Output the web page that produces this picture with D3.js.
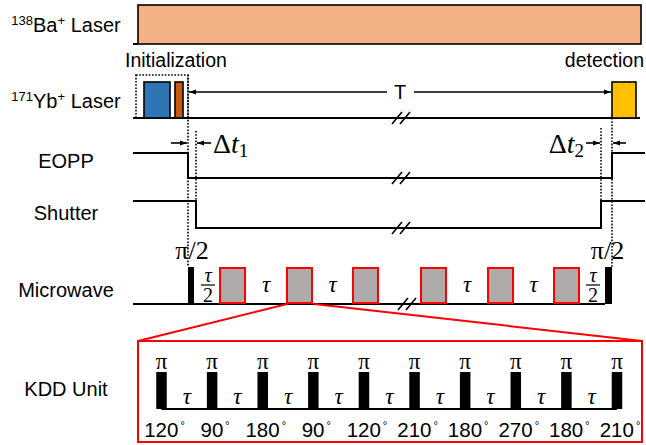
<!DOCTYPE html>
<html>
<head>
<meta charset="utf-8">
<script src="https://cdn.jsdelivr.net/npm/d3@7"></script>
<style>
  body { margin: 0; background: #fff; }
  text { font-family: Arial, "Liberation Sans", sans-serif; fill: #000; }
  .math { font-family: "Liberation Serif", "DejaVu Serif", serif; }
</style>
</head>
<body>
<svg id="chart" width="646" height="445"></svg>
<script>
// ---- sequence timing (arbitrary time units along the main axis) ----
const rowNames = ["Ba", "Yb", "EOPP", "Shutter", "Microwave", "KDD Unit"];
const baLaserOn = [0.5, 50.8];
const ybPulseStart = [1.1, 4.2, 47.9];
const ybPulseEnd = [3.7, 5.0, 50.3];
const ybPulseColor = ["#2e75b6", "#c55a11", "#ffc000"];
const initWindow = [0.3, 5.5];
const eoppEdges = [5.5, 47.9];      // switch off, switch back on
const shutterEdges = [6.3, 46.8];   // close, open
const piHalfStart = [5.5, 47.2];
const piHalfEnd = [6.1, 47.9];
const kddBlockStart = [8.7, 15.4, 22.0, 28.8, 35.5, 42.1];
const kddBlockLength = 2.5;
const zoomedBlock = 1;
const upperBreak = 26.8;
const microwaveBreak = 27.4;
const waitArrow = [5.6, 47.8];

// ---- one KDD unit: ten pi pulses and their phases ----
const kddPhases = [120, 90, 180, 90, 120, 210, 180, 270, 180, 210];

const svg = d3.select("#chart");
const x = d3.scaleLinear().domain([0, 51.2]).range([133, 645]);
const xk = d3.scaleLinear().domain([0, kddPhases.length - 1]).range([161.5, 617]);

// vertical layout of each trace
const row = {
  ba:   { base: 44, top: 5 },
  yb:   { base: 118, top: 82 },
  eopp: { hi: 153, lo: 178 },
  shut: { hi: 201, lo: 228 },
  mw:   { base: 304, top: 267 },
  kdd:  { base: 409, top: 372, boxTop: 341, boxBottom: 442 }
};

// arrow heads
const defs = svg.append("defs");
defs.append("marker").attr("id", "head")
  .attr("viewBox", "0 0 10 10").attr("refX", 10).attr("refY", 5)
  .attr("markerWidth", 7).attr("markerHeight", 7).attr("orient", "auto-start-reverse")
  .attr("markerUnits", "userSpaceOnUse")
  .append("path").attr("d", "M0,1.5 L10,5 L0,8.5 Z").attr("fill", "#000");

const line = (x1, y1, x2, y2, opts = {}) => svg.append("line")
  .attr("x1", x1).attr("y1", y1).attr("x2", x2).attr("y2", y2)
  .attr("stroke", opts.color || "#000")
  .attr("stroke-width", opts.width || 2)
  .attr("stroke-dasharray", opts.dash || null);

const dotted = (x1, y1, x2, y2) => line(x1, y1, x2, y2, { width: 1.6, dash: "1.6,1.6" });

// ---- row labels ----
const labelX = 66;
const lab = svg.append("g").attr("text-anchor", "middle").attr("font-size", 20);
const baLab = lab.append("text").attr("x", labelX).attr("y", 32);
baLab.append("tspan").attr("font-size", 13).attr("dy", -7).text("138");
baLab.append("tspan").attr("dy", 7).text("Ba");
baLab.append("tspan").attr("font-size", 13).attr("dy", -7).text("+");
baLab.append("tspan").attr("dy", 7).text(" Laser");
const ybLab = lab.append("text").attr("x", labelX).attr("y", 108);
ybLab.append("tspan").attr("font-size", 13).attr("dy", -7).text("171");
ybLab.append("tspan").attr("dy", 7).text("Yb");
ybLab.append("tspan").attr("font-size", 13).attr("dy", -7).text("+");
ybLab.append("tspan").attr("dy", 7).text(" Laser");
lab.append("text").attr("x", labelX).attr("y", 168).text(rowNames[2]);
lab.append("text").attr("x", labelX).attr("y", 220).text(rowNames[3]);
lab.append("text").attr("x", labelX).attr("y", 297).text(rowNames[4]);
lab.append("text").attr("x", labelX).attr("y", 396).text(rowNames[5]);

// ---- 138Ba+ laser: always on ----
line(x(0), row.ba.base, x(baLaserOn[0]), row.ba.base);
svg.append("rect")
  .attr("x", x(baLaserOn[0])).attr("y", row.ba.top)
  .attr("width", x(baLaserOn[1]) - x(baLaserOn[0])).attr("height", row.ba.base - row.ba.top)
  .attr("fill", "#f4b183").attr("stroke", "#000").attr("stroke-width", 1.6);

// ---- 171Yb+ laser ----
line(x(0), row.yb.base, x(50.7), row.yb.base);
svg.selectAll("rect.yb").data(ybPulseStart).join("rect").attr("class", "yb")
  .attr("x", (d) => x(d)).attr("y", row.yb.top)
  .attr("width", (d, i) => x(ybPulseEnd[i]) - x(d)).attr("height", row.yb.base - row.yb.top)
  .attr("fill", (d, i) => ybPulseColor[i]).attr("stroke", "#000").attr("stroke-width", 1.6);

// initialization window
svg.append("rect")
  .attr("x", x(initWindow[0])).attr("y", 75)
  .attr("width", x(initWindow[1]) - x(initWindow[0])).attr("height", row.yb.base - 75)
  .attr("fill", "none").attr("stroke", "#000").attr("stroke-width", 1.6).attr("stroke-dasharray", "1.6,1.6");
svg.append("text").attr("x", x(initWindow[0]) - 11).attr("y", 67).attr("font-size", 19.5).text("Initialization");
svg.append("text").attr("x", 644).attr("y", 67)
  .attr("text-anchor", "end").attr("font-size", 19.5).text("detection");

// wait time T
const tMid = (waitArrow[0] + waitArrow[1]) / 2;
line(x(tMid) - 13, 92, x(waitArrow[0]), 92, { width: 1.6 }).attr("marker-end", "url(#head)");
line(x(tMid) + 14, 92, x(waitArrow[1]), 92, { width: 1.6 }).attr("marker-end", "url(#head)");
svg.append("text").attr("x", x(tMid)).attr("y", 99).attr("text-anchor", "middle").attr("font-size", 20).text("T");

// ---- EOPP ----
svg.append("path")
  .attr("d", d3.line()([
    [x(0), row.eopp.hi], [x(eoppEdges[0]), row.eopp.hi], [x(eoppEdges[0]), row.eopp.lo],
    [x(eoppEdges[1]), row.eopp.lo], [x(eoppEdges[1]), row.eopp.hi], [x(51.2), row.eopp.hi]
  ]))
  .attr("fill", "none").attr("stroke", "#000").attr("stroke-width", 2);

// ---- Shutter ----
svg.append("path")
  .attr("d", d3.line()([
    [x(0), row.shut.hi], [x(shutterEdges[0]), row.shut.hi], [x(shutterEdges[0]), row.shut.lo],
    [x(shutterEdges[1]), row.shut.lo], [x(shutterEdges[1]), row.shut.hi], [x(51.2), row.shut.hi]
  ]))
  .attr("fill", "none").attr("stroke", "#000").attr("stroke-width", 2);

// ---- Microwave ----
line(x(0), row.mw.base, x(piHalfStart[1]), row.mw.base);
svg.selectAll("rect.pihalf").data(piHalfStart).join("rect").attr("class", "pihalf")
  .attr("x", (d) => x(d)).attr("y", row.mw.top)
  .attr("width", (d, i) => x(piHalfEnd[i]) - x(d)).attr("height", row.mw.base - row.mw.top)
  .attr("fill", "#000");
svg.selectAll("rect.block").data(kddBlockStart).join("rect").attr("class", "block")
  .attr("x", (d) => x(d)).attr("y", row.mw.top + 1)
  .attr("width", x(kddBlockLength) - x(0)).attr("height", row.mw.base - row.mw.top - 2)
  .attr("fill", "#aeaaaa").attr("stroke", "#ff0000").attr("stroke-width", 2);

// pi/2 labels
piHalfStart.forEach((d, i) => {
  const cx = (x(d) + x(piHalfEnd[i])) / 2 + (i === 0 ? 1 : -1);
  svg.append("text").attr("class", "math").attr("x", cx).attr("y", 259)
    .attr("text-anchor", "middle").attr("font-size", 26).text("\u03c0/2");
});

// tau/2 fractions next to the pi/2 pulses
const halfTau = [(piHalfEnd[0] + kddBlockStart[0]) / 2,
                 (kddBlockStart[5] + kddBlockLength + piHalfStart[1]) / 2];
halfTau.forEach((t) => {
  const g = svg.append("g").attr("transform", `translate(${x(t) + 1},0)`);
  g.append("text").attr("class", "math").attr("x", 0).attr("y", 282)
    .attr("text-anchor", "middle").attr("font-size", 20).attr("font-style", "italic").text("\u03c4");
  g.append("line").attr("x1", -7).attr("x2", 7).attr("y1", 285).attr("y2", 285)
    .attr("stroke", "#000").attr("stroke-width", 1.2);
  g.append("text").attr("class", "math").attr("x", 0).attr("y", 302)
    .attr("text-anchor", "middle").attr("font-size", 20).text("2");
});

// tau gaps between blocks
const tauGaps = [0, 1, 3, 4].map((i) => (kddBlockStart[i] + kddBlockLength + kddBlockStart[i + 1]) / 2);
svg.selectAll("text.tau").data(tauGaps).join("text").attr("class", "math tau")
  .attr("x", (d) => x(d)).attr("y", 292).attr("text-anchor", "middle")
  .attr("font-size", 23).attr("font-style", "italic").text("\u03c4");

// ---- break marks ----
const breakMark = (t, y) => {
  const cx = x(t);
  [-4, 4].forEach((o) => line(cx + o - 5, y + 6, cx + o + 5, y - 6, { width: 1.6 }));
};
breakMark(upperBreak, row.yb.base);
breakMark(upperBreak, row.eopp.lo);
breakMark(upperBreak, row.shut.lo);
breakMark(microwaveBreak, row.mw.base);

// ---- timing reference lines ----
dotted(x(eoppEdges[0]), 75, x(eoppEdges[0]), row.mw.top);
dotted(x(shutterEdges[0]), 131, x(shutterEdges[0]), row.shut.lo);
dotted(x(shutterEdges[1]), 128, x(shutterEdges[1]), row.shut.hi);
dotted(x(eoppEdges[1]), row.yb.base, x(eoppEdges[1]), row.mw.top);

// delay arrows
const dy = 143;
line(x(eoppEdges[0]) - 17, dy, x(eoppEdges[0]) - 1, dy, { width: 1.6 }).attr("marker-end", "url(#head)");
line(x(shutterEdges[0]) + 15, dy, x(shutterEdges[0]) + 1, dy, { width: 1.6 }).attr("marker-end", "url(#head)");
line(x(shutterEdges[1]) - 15, dy, x(shutterEdges[1]) - 1, dy, { width: 1.6 }).attr("marker-end", "url(#head)");
line(x(eoppEdges[1]) + 14, dy, x(eoppEdges[1]) + 1, dy, { width: 1.6 }).attr("marker-end", "url(#head)");

const deltaLabel = (xPos, anchor, sub) => {
  const t = svg.append("text").attr("class", "math").attr("x", xPos).attr("y", 153)
    .attr("text-anchor", anchor).attr("font-size", 28);
  t.append("tspan").text("\u0394");
  t.append("tspan").attr("font-style", "italic").text("t");
  t.append("tspan").attr("font-size", 19).attr("dy", 4).text(sub);
};
deltaLabel(x(shutterEdges[0]) + 17, "start", "1");
deltaLabel(x(shutterEdges[1]) - 17, "end", "2");

// ---- zoom into one KDD block ----
const zb = kddBlockStart[zoomedBlock];
line(x(zb), row.mw.base, 138, row.kdd.boxTop, { color: "#ff0000", width: 2 });
line(x(zb + kddBlockLength) + 2, row.mw.base, 642, row.kdd.boxTop, { color: "#ff0000", width: 2 });
svg.append("rect").attr("x", 138).attr("y", row.kdd.boxTop)
  .attr("width", 642 - 138).attr("height", row.kdd.boxBottom - row.kdd.boxTop)
  .attr("fill", "#fff").attr("stroke", "#ff0000").attr("stroke-width", 2);

const barW = 10.5;
line(xk(0), row.kdd.base, xk(kddPhases.length - 1), row.kdd.base);
svg.selectAll("rect.kdd").data(kddPhases).join("rect").attr("class", "kdd")
  .attr("x", (d, i) => xk(i) - barW / 2).attr("y", row.kdd.top)
  .attr("width", barW).attr("height", row.kdd.base - row.kdd.top).attr("fill", "#000");
svg.selectAll("text.kpi").data(kddPhases).join("text").attr("class", "math kpi")
  .attr("x", (d, i) => xk(i)).attr("y", 369).attr("text-anchor", "middle")
  .attr("font-size", 23).text("\u03c0");
svg.selectAll("text.ktau").data(kddPhases.slice(1)).join("text").attr("class", "math ktau")
  .attr("x", (d, i) => xk(i + 0.5)).attr("y", 404).attr("text-anchor", "middle")
  .attr("font-size", 23).attr("font-style", "italic").text("\u03c4");
const ph = svg.selectAll("text.phase").data(kddPhases).join("text").attr("class", "phase")
  .attr("x", (d, i) => xk(i) + 3).attr("y", 437).attr("text-anchor", "middle").attr("font-size", 20.5);
ph.append("tspan").text((d) => d);
ph.append("tspan").attr("dx", 2).attr("dy", -8).attr("font-size", 11).text("\u00b0");
</script>
</body>
</html>
